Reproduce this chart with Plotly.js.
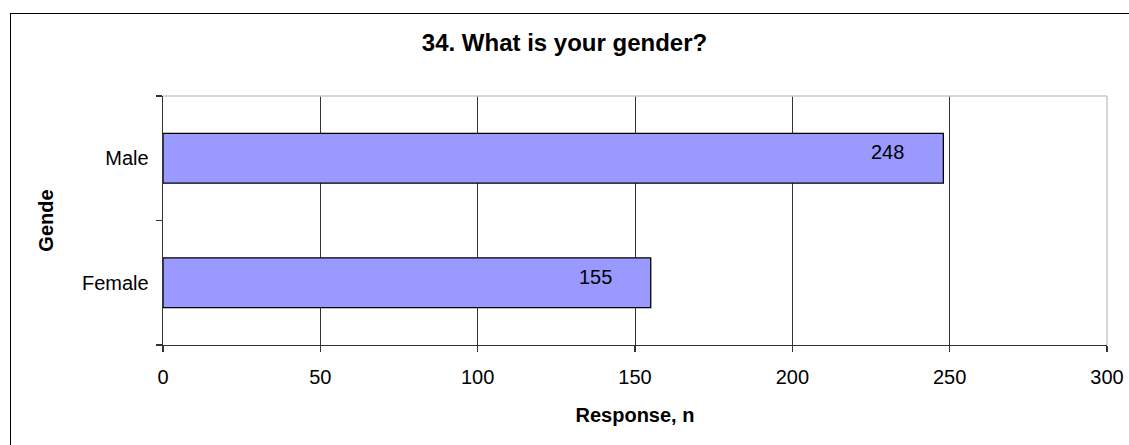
<!DOCTYPE html>
<html>
<head>
<meta charset="utf-8">
<script src="https://cdn.plot.ly/plotly-3.0.1.min.js"></script>
<style>
  html, body { margin: 0; padding: 0; background: #fff; }
  #wrap { position: relative; width: 1129px; height: 445px; overflow: hidden; }
  #chart { position: absolute; left: 0; top: 0; width: 1129px; height: 445px; }
  #frame { position: absolute; left: 10px; top: 13px; width: 1200px; height: 500px;
           border-left: 1.5px solid #000; border-top: 1.5px solid #000; pointer-events: none; }
</style>
</head>
<body>
<div id="wrap">
  <div id="chart"></div>
  <div id="frame"></div>
</div>
<script>
const categories = ["Female", "Male"];
const responses = [155, 248];
const xTickValues = [0, 50, 100, 150, 200, 250, 300];

const chartTitle = "34. What is your gender?";
const xTitle = "Response, n";
const yTitle = "Gende";

const FONT = "Liberation Sans, Arial, sans-serif";

const trace = {
  type: "bar",
  orientation: "h",
  y: categories,
  x: responses,
  width: 0.4,
  marker: { color: "#9999FF", line: { color: "#000000", width: 1.3 } },
  hoverinfo: "x+y"
};

const annotations = categories.map((c, i) => ({
  x: responses[i],
  y: c,
  xref: "x",
  yref: "y",
  text: String(responses[i]),
  showarrow: false,
  xanchor: "right",
  yanchor: "middle",
  xshift: -37,
  yshift: 6,
  font: { family: FONT, size: 20, color: "#000" }
}));

const layout = {
  width: 1129,
  height: 445,
  margin: { l: 163, r: 22, t: 96, b: 100, pad: 0 },
  paper_bgcolor: "rgba(0,0,0,0)",
  plot_bgcolor: "#ffffff",
  showlegend: false,
  font: { family: FONT, size: 20, color: "#000" },
  title: {
    text: "<b>" + chartTitle + "</b>",
    font: { family: FONT, size: 24, color: "#000" },
    x: 0.5, xanchor: "center", xref: "container",
    y: 1 - 43 / 445, yanchor: "middle", yref: "container"
  },
  xaxis: {
    range: [0, 300],
    tickvals: xTickValues,
    ticktext: xTickValues.map(String),
    showgrid: true,
    gridcolor: "#333333",
    gridwidth: 1,
    zeroline: false,
    showline: true,
    linecolor: "#333333",
    linewidth: 1.3,
    ticks: "outside",
    ticklen: 6,
    tickcolor: "#333333",
    tickwidth: 1.3,
    ticklabelstandoff: 8,
    tickfont: { family: FONT, size: 20, color: "#000" },
    automargin: false,
    fixedrange: true,
    title: { text: "<b>" + xTitle + "</b>", font: { family: FONT, size: 20, color: "#000" }, standoff: 20 }
  },
  yaxis: {
    type: "category",
    categoryorder: "array",
    categoryarray: categories,
    range: [-0.5, 1.5],
    tickson: "boundaries",
    showgrid: false,
    zeroline: false,
    showline: true,
    linecolor: "#333333",
    linewidth: 1.3,
    ticks: "outside",
    ticklen: 6,
    tickcolor: "#333333",
    tickwidth: 1.3,
    ticklabelstandoff: 9,
    tickfont: { family: FONT, size: 20, color: "#000" },
    automargin: false,
    fixedrange: true,
    title: { text: "<b>" + yTitle + "</b>", font: { family: FONT, size: 20, color: "#000" }, standoff: 23 }
  },
  shapes: [
    { type: "line", xref: "paper", yref: "paper", x0: 0, x1: 1, y0: 1, y1: 1,
      line: { color: "#c8c8c8", width: 1.5 }, layer: "above" },
    { type: "line", xref: "paper", yref: "paper", x0: 1, x1: 1, y0: 0, y1: 1,
      line: { color: "#c8c8c8", width: 1.5 }, layer: "above" }
  ],
  annotations: annotations
};

Plotly.newPlot("chart", [trace], layout, { displayModeBar: false, staticPlot: true });
</script>
</body>
</html>
